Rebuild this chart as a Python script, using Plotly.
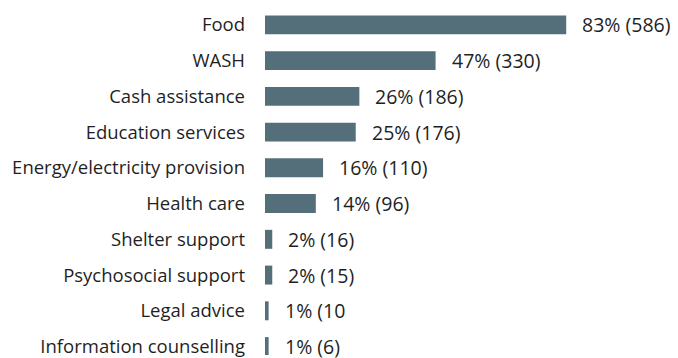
import plotly.graph_objects as go

# Share of households receiving each type of assistance
categories = [
    "Food",
    "WASH",
    "Cash assistance",
    "Education services",
    "Energy/electricity provision",
    "Health care",
    "Shelter support",
    "Psychosocial support",
    "Legal advice",
    "Information counselling",
]
percent = [83, 47, 26, 25, 16, 14, 2, 2, 1, 1]
counts = ["586", "330", "186", "176", "110", "96", "16", "15", "10", "6"]
value_labels = [
    "83% (586)", "47% (330)", "26% (186)", "25% (176)", "16% (110)",
    "14% (96)", "2% (16)", "2% (15)", "1% (10", "1% (6)",
]

BAR_COLOR = "#546e7a"
TEXT_COLOR = "#1f1f1f"
FONT = "Open Sans"
TICK_SIZE = 18.5
VALUE_SIZE = 19.5

fig = go.Figure(
    go.Bar(
        x=percent,
        y=categories,
        orientation="h",
        marker=dict(color=BAR_COLOR, line=dict(width=0)),
        hoverinfo="skip",
    )
)

for cat, pct, lab in zip(categories, percent, value_labels):
    fig.add_annotation(
        x=pct, y=cat, text=lab, showarrow=False,
        xanchor="left", yanchor="middle", xshift=14,
        font=dict(family=FONT, size=VALUE_SIZE, color=TEXT_COLOR),
    )

fig.update_layout(
    width=678,
    height=358,
    margin=dict(l=265, r=0, t=7, b=0),
    paper_bgcolor="white",
    plot_bgcolor="white",
    bargap=0.47,
    showlegend=False,
    font=dict(family=FONT, size=TICK_SIZE, color=TEXT_COLOR),
)
fig.update_xaxes(range=[0, 113.8], visible=False, fixedrange=True)
fig.update_yaxes(
    type="category",
    categoryorder="array",
    categoryarray=categories,
    range=[9.236, -0.5],
    showgrid=False,
    zeroline=False,
    showline=False,
    ticks="",
    ticklabelstandoff=19,
    tickfont=dict(family=FONT, size=TICK_SIZE, color=TEXT_COLOR),
    fixedrange=True,
)

fig.write_html("out.html")
